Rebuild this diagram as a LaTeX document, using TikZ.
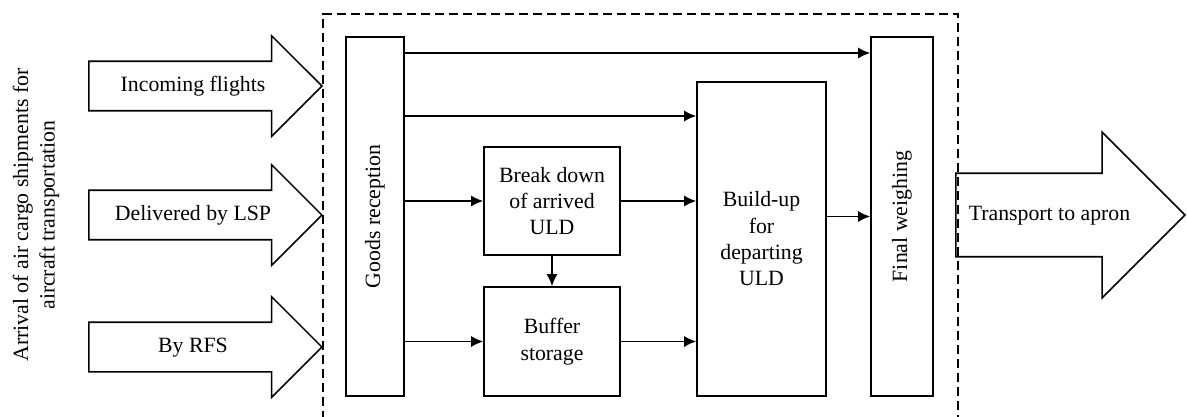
\documentclass[tikz,border=0pt]{standalone}
\usepackage{fontspec}
\setmainfont{Liberation Serif}
\usetikzlibrary{shapes,arrows.meta,positioning,calc}

\begin{document}
\begin{tikzpicture}[x=0.02cm,y=-0.02cm,line width=0.9pt,font=\fontsize{12.4}{15}\selectfont]
    \tikzstyle{process}=[draw,rectangle,align=center,inner sep=2pt]
    \tikzstyle{tall process}=[process,minimum height=7.18cm]
    \tikzstyle{flow}=[-{Latex[length=2.4mm,width=2.2mm]}]
    \tikzstyle{big arrow}=[draw,single arrow,single arrow tip angle=90,inner xsep=0pt,anchor=tip,text height=0.3cm,text depth=0.1cm]
    \tikzstyle{in arrow}=[big arrow,inner ysep=0.28cm,minimum width=1.98cm,single arrow head extend=0.51cm,minimum height=4.66cm]
    \tikzstyle{out arrow}=[big arrow,inner ysep=0.62cm,minimum width=3.28cm,single arrow head extend=0.82cm,minimum height=4.58cm]
    \tikzstyle{annot}=[align=center,rotate=90]

    \useasboundingbox (0,0) rectangle (1187,416);

    % Draw the terminal border
    \draw[dash pattern=on 0.18cm off 0.1cm,line width=0.7pt] (323,420) -- (323,14) -- (958,14) -- (958,420);

    % Draw the incoming arrows
    \node[annot] (arrival) at (36,215) {Arrival of air cargo shipments for\\aircraft transportation};
    \foreach \name / \y / \txt in {flights/86/Incoming flights, lsp/215/Delivered by LSP, rfs/347/By RFS}
        \node[in arrow] (in-\name) at (323,\y) {\txt};

    % Draw the processes
    \node[tall process,minimum width=1.16cm] (GR) at (375,216.5) {\rotatebox{90}{Goods reception}};
    \node[process,minimum width=2.72cm,minimum height=2.16cm] (BD) at (552,201) {Break down\\of arrived\\ULD};
    \node[process,minimum width=2.72cm,minimum height=2.18cm] (BS) at (552,341.5) {Buffer\\storage};
    \node[process,minimum width=2.58cm,minimum height=6.28cm] (BU) at (761.5,239) {Build-up\\for\\departing\\ULD};
    \node[tall process,minimum width=1.24cm] (FW) at (902,216.5) {\rotatebox{90}{Final weighing}};

    % Draw the outgoing arrow
    \node[out arrow] (apron) at (1186,215) {Transport to apron};

    % Connect the processes
    \coordinate (row1) at (0,53);
    \coordinate (row2) at (0,116);
    \draw[flow] (GR.east |- row1) -- (FW.west |- row1);
    \draw[flow] (GR.east |- row2) -- (BU.west |- row2);
    \draw[flow] (GR.east |- BD.west) -- (BD.west);
    \draw[flow] (BD.east) -- (BU.west |- BD.east);
    \draw[flow] (GR.east |- BS.west) -- (BS.west);
    \draw[flow] (BS.east) -- (BU.west |- BS.east);
    \draw[flow] (BD.south) -- (BS.north);
    \draw[flow] (BU.east |- FW.west) -- (FW.west);
\end{tikzpicture}
\end{document}
